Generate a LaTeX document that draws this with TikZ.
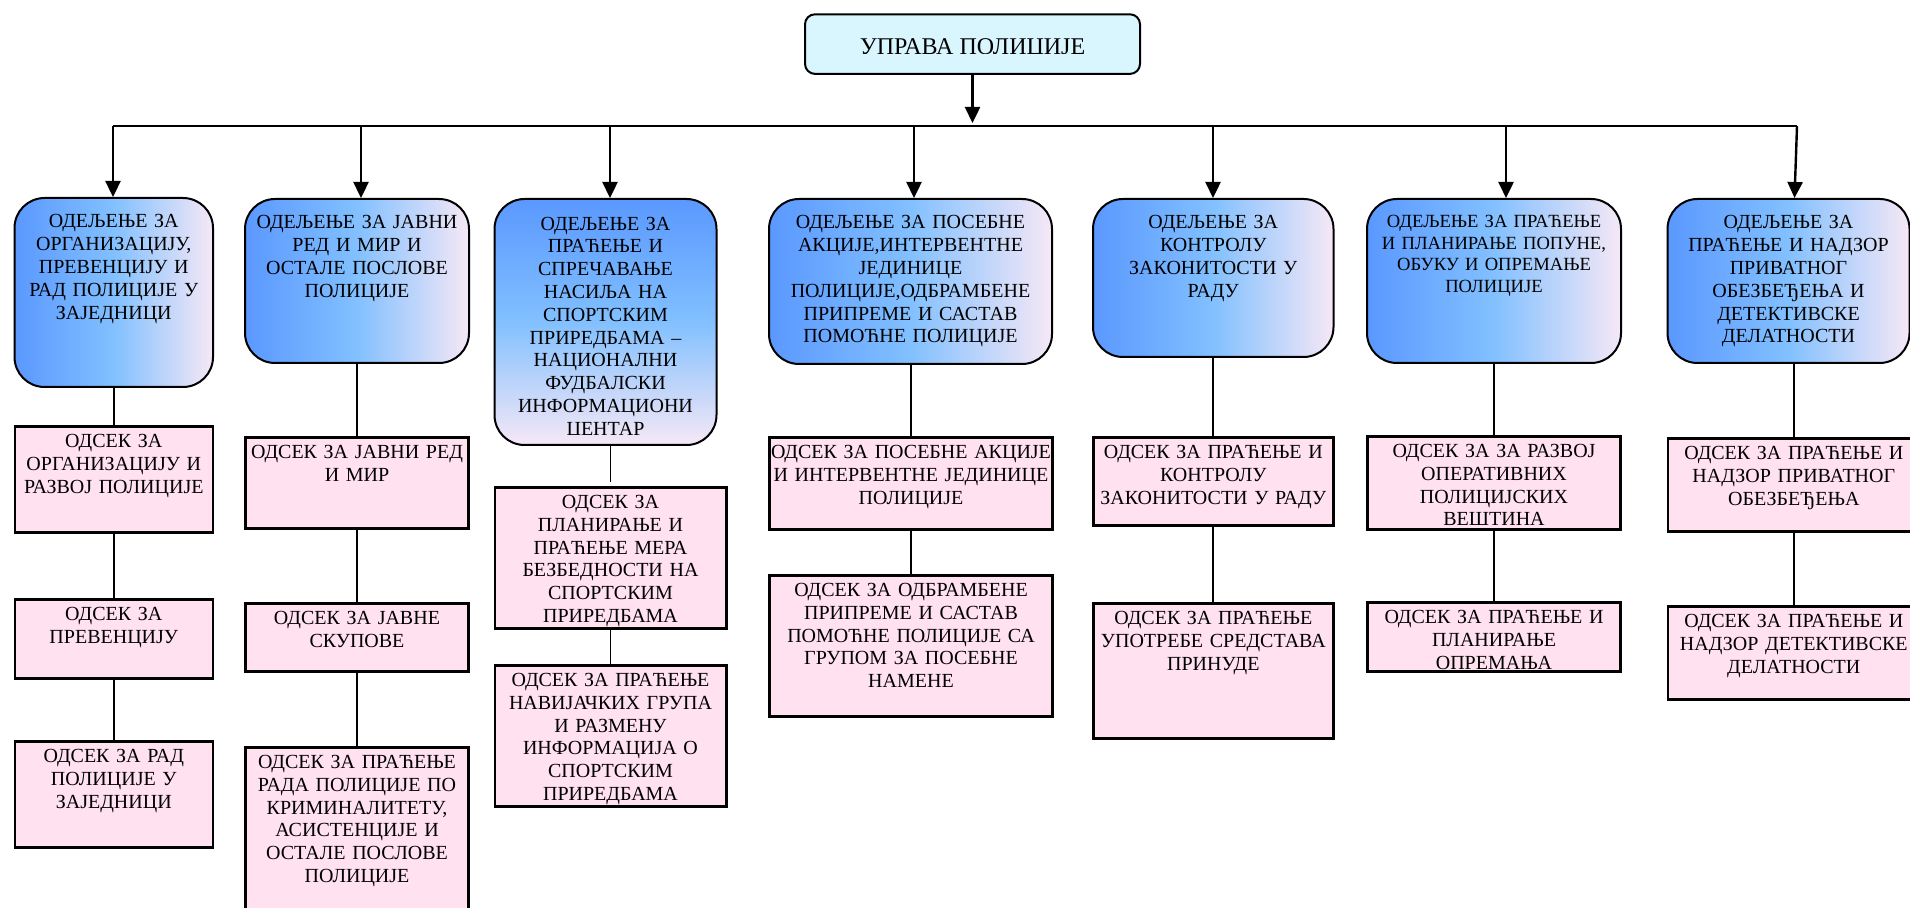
\documentclass[tikz,border=0pt]{standalone}
\usepackage{fontspec}
\setmainfont{Liberation Serif}
\usetikzlibrary{positioning,arrows.meta}
\definecolor{deptblue}{RGB}{90,152,255}
\definecolor{deptsky}{RGB}{130,192,255}
\definecolor{deptlav}{RGB}{246,232,246}
\definecolor{subpink}{RGB}{255,225,240}
\definecolor{topcyan}{RGB}{217,246,255}
\tikzset{
  txt/.style={font=\fontsize{10pt}{11.4pt}\selectfont},
  dept/.style 2 args={draw, line width=1pt, rounded corners=15pt, left color=deptblue, right color=deptlav, middle color=deptsky, align=center, inner sep=0pt, txt, text width=#1, text height=15pt, text depth=#2-16pt, anchor=north west},
  sub/.style 2 args={draw, line width=1.3pt, fill=subpink, align=center, inner sep=0pt, txt, text width=#1, text height=10.6pt, text depth=#2-11.9pt},
  topbox/.style={draw, line width=1pt, rounded corners=5pt, fill=topcyan, inner sep=0pt, minimum width=167.5pt, minimum height=29.8pt},
  link/.style={line width=0.9pt}
}
\begin{document}
\begin{tikzpicture}[x=0.5pt, y=-0.5pt, line width=1.2pt, >={Triangle[length=8pt,width=7.5pt]}]
  \useasboundingbox (0,0) rectangle (1910,908);

  \node[topbox, anchor=north] (top) at (972.5,13.3) {};
  \begin{scope}
    \clip (top.north west) rectangle (1141,53.3);
    \node[anchor=base, inner sep=0pt, font=\fontsize{12pt}{13pt}\selectfont] (toptxt) at (972.5,54.5) {УПРАВА ПОЛИЦИЈЕ};
  \end{scope}

  \coordinate (busL) at (113,126);
  \coordinate (busR) at (1797,126);
  \coordinate (t2) at (361,126);
  \coordinate (t3) at (610,126);
  \coordinate (t4) at (914,126);
  \coordinate (t5) at (1213,126);
  \coordinate (t6) at (1506,126);

  % departments
  \node[dept={99.25pt}{95.5pt}] (d1) at (13.5,197) {ОДЕЉЕЊЕ ЗА\\ ОРГАНИЗАЦИЈУ,\\ ПРЕВЕНЦИЈУ И\\ РАД ПОЛИЦИЈЕ У\\ ЗАЈЕДНИЦИ};
  \node[dept={112pt}{83pt}] (d2) at (244,198) {ОДЕЉЕЊЕ ЗА ЈАВНИ\\ РЕД И МИР И\\ ОСТАЛЕ ПОСЛОВЕ\\ ПОЛИЦИЈЕ};
  \node[dept={111pt}{124pt}, top color=deptblue, bottom color=deptlav, middle color=deptsky] (d3) at (493.5,198) {};
  \begin{scope}
    \clip (d3.north west) rectangle (718,435);
    \node[anchor=north, align=center, inner sep=0pt, txt, text width=111pt, text height=15.5pt] (d3txt) at (d3.north) {ОДЕЉЕЊЕ ЗА\\ ПРАЋЕЊЕ И\\ СПРЕЧАВАЊЕ\\ НАСИЉА НА\\ СПОРТСКИМ\\ ПРИРЕДБАМА –\\ НАЦИОНАЛНИ\\ ФУДБАЛСКИ\\ ИНФОРМАЦИОНИ\\ ЦЕНТАР};
  \end{scope}
  \node[dept={141.5pt}{83.5pt}] (d4) at (768,198) {ОДЕЉЕЊЕ ЗА ПОСЕБНЕ\\ АКЦИЈЕ,ИНТЕРВЕНТНЕ\\ ЈЕДИНИЦЕ\\ ПОЛИЦИЈЕ,ОДБРАМБЕНЕ\\ ПРИПРЕМЕ И САСТАВ\\ ПОМОЋНЕ ПОЛИЦИЈЕ};
  \node[dept={120.25pt}{80pt}] (d5) at (1092,198) {ОДЕЉЕЊЕ ЗА\\ КОНТРОЛУ\\ ЗАКОНИТОСТИ У\\ РАДУ};
  \node[dept={127pt}{83.5pt}, font=\fontsize{9.3pt}{10.7pt}\selectfont, text height=14.5pt] (d6) at (1366,198) {ОДЕЉЕЊЕ ЗА ПРАЋЕЊЕ\\ И ПЛАНИРАЊЕ ПОПУНЕ,\\ ОБУКУ И ОПРЕМАЊЕ\\ ПОЛИЦИЈЕ};
  \node[dept={121pt}{83pt}] (d7) at (1666.5,198) {ОДЕЉЕЊЕ ЗА\\ ПРАЋЕЊЕ И НАДЗОР\\ ПРИВАТНОГ\\ ОБЕЗБЕЂЕЊА И\\ ДЕТЕКТИВСКЕ\\ ДЕЛАТНОСТИ};

  % sections
  \node[sub={99pt}{54.5pt}, below right=18.5pt and 0pt of d1.south west] (s1a) {ОДСЕК ЗА\\ ОРГАНИЗАЦИЈУ И\\ РАЗВОЈ ПОЛИЦИЈЕ};
  \node[sub={99pt}{41pt}, below right=32pt and 0pt of s1a.south west] (s1b) {ОДСЕК ЗА\\ ПРЕВЕНЦИЈУ};
  \node[sub={99pt}{54.5pt}, below right=30pt and 0pt of s1b.south west] (s1c) {ОДСЕК ЗА РАД\\ ПОЛИЦИЈЕ У\\ ЗАЈЕДНИЦИ};
  \node[sub={111.7pt}{47pt}, below right=36pt and 0pt of d2.south west] (s2a) {ОДСЕК ЗА ЈАВНИ РЕД\\ И МИР};
  \node[sub={111.7pt}{35.5pt}, below right=36pt and 0pt of s2a.south west] (s2b) {ОДСЕК ЗА ЈАВНЕ\\ СКУПОВЕ};
  \node[sub={111.7pt}{90pt}, below right=36.5pt and 0pt of s2b.south west] (s2c) {ОДСЕК ЗА ПРАЋЕЊЕ\\ РАДА ПОЛИЦИЈЕ ПО\\ КРИМИНАЛИТЕТУ,\\ АСИСТЕНЦИЈЕ И\\ ОСТАЛЕ ПОСЛОВЕ\\ ПОЛИЦИЈЕ};
  \node[sub={115.7pt}{72pt}, below right=20pt and 0pt of d3.south west] (s3a) {ОДСЕК ЗА\\ ПЛАНИРАЊЕ И\\ ПРАЋЕЊЕ МЕРА\\ БЕЗБЕДНОСТИ НА\\ СПОРТСКИМ\\ ПРИРЕДБАМА};
  \node[sub={115.7pt}{72pt}, below right=17pt and 0pt of s3a.south west] (s3b) {ОДСЕК ЗА ПРАЋЕЊЕ\\ НАВИЈАЧКИХ ГРУПА\\ И РАЗМЕНУ\\ ИНФОРМАЦИЈА О\\ СПОРТСКИМ\\ ПРИРЕДБАМА};
  \node[sub={141.7pt}{47.5pt}, below right=35.5pt and 0pt of d4.south west] (s4a) {ОДСЕК ЗА ПОСЕБНЕ АКЦИЈЕ\\ И ИНТЕРВЕНТНЕ ЈЕДИНИЦЕ\\ ПОЛИЦИЈЕ};
  \node[sub={141.7pt}{72pt}, below right=21.5pt and 0pt of s4a.south west] (s4b) {ОДСЕК ЗА ОДБРАМБЕНЕ\\ ПРИПРЕМЕ И САСТАВ\\ ПОМОЋНЕ ПОЛИЦИЈЕ СА\\ ГРУПОМ ЗА ПОСЕБНЕ\\ НАМЕНЕ};
  \node[sub={120pt}{45.5pt}, below right=39pt and 0pt of d5.south west] (s5a) {ОДСЕК ЗА ПРАЋЕЊЕ И\\ КОНТРОЛУ\\ ЗАКОНИТОСТИ У РАДУ};
  \node[sub={120pt}{69pt}, below right=37.5pt and 0pt of s5a.south west] (s5b) {ОДСЕК ЗА ПРАЋЕЊЕ\\ УПОТРЕБЕ СРЕДСТАВА\\ ПРИНУДЕ};
  \node[sub={126.7pt}{48pt}, below right=35.5pt and 0pt of d6.south west] (s6a) {ОДСЕК ЗА ЗА РАЗВОЈ\\ ОПЕРАТИВНИХ\\ ПОЛИЦИЈСКИХ\\ ВЕШТИНА};
  \node[sub={126.7pt}{36pt}, below right=35pt and 0pt of s6a.south west] (s6b) {ОДСЕК ЗА ПРАЋЕЊЕ И\\ ПЛАНИРАЊЕ\\ ОПРЕМАЊА};
  \node[sub={126pt}{48pt}, below right=36.5pt and 0pt of d7.south west] (s7a) {ОДСЕК ЗА ПРАЋЕЊЕ И\\ НАДЗОР ПРИВАТНОГ\\ ОБЕЗБЕЂЕЊА};
  \node[sub={126pt}{48pt}, below right=36pt and 0pt of s7a.south west] (s7b) {ОДСЕК ЗА ПРАЋЕЊЕ И\\ НАДЗОР ДЕТЕКТИВСКЕ\\ ДЕЛАТНОСТИ};

  % connectors
  \draw[->, shorten >=1.5pt] (top) -- (top |- busL);
  \draw (busL) -- (busR);
  \draw[->] (busL) -- (busL |- d1.north);
  \foreach \t/\d in {t2/d2, t3/d3, t4/d4, t5/d5, t6/d6}
    \draw[->] (\t) -- (\t |- \d.north);
  \draw[->] (busR) -- ([xshift=3pt]d7.north);

  \draw[link, shorten >=2pt] (s3a.north |- d3.south) -- (s3a.north);
  \foreach \a/\b in {d1/s1a, s1a/s1b, s1b/s1c, d2/s2a, s2a/s2b, s2b/s2c, s3a/s3b, d4/s4a, s4a/s4b, d5/s5a, s5a/s5b, d6/s6a, s6a/s6b, d7/s7a, s7a/s7b}
    \draw[link] (\b.north |- \a.south) -- (\b.north);
\end{tikzpicture}
\end{document}
